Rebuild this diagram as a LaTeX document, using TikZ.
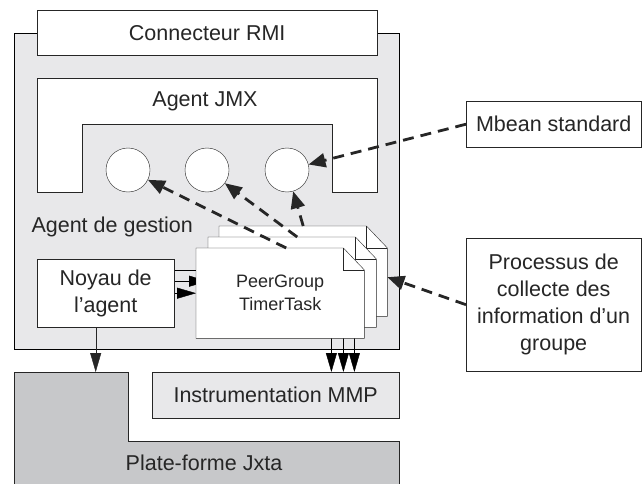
\documentclass[tikz,border=0pt]{standalone}
\usepackage{fontspec}
\setmainfont{Liberation Sans}
\usetikzlibrary{arrows.meta}
\pgfdeclarelayer{back}
\pgfdeclarelayer{mid}
\pgfsetlayers{back,mid,main}
\definecolor{paleg}{RGB}{232,232,234}
\definecolor{darkg}{RGB}{199,200,202}
\definecolor{ink}{RGB}{38,38,38}

\begin{document}
\begin{tikzpicture}[x=1pt,y=-1pt,line width=1.3pt,color=ink,
  box/.style={draw=ink,fill=white,inner sep=0pt,align=center,font=\fontsize{21.5}{27}\selectfont},
  docpage/.style={minimum width=168pt,minimum height=90pt,inner sep=0pt,anchor=north west},
  feed/.style={-{Triangle[length=19pt,width=11pt]}},
  link/.style={-{Triangle[length=17pt,width=14pt]},line width=2.8pt,dash pattern=on 11pt off 7pt}]
  \useasboundingbox (0,0) rectangle (642,484);
  \clip (0,0) rectangle (642,484);
  \begin{pgfonlayer}{back}
    \filldraw[fill=paleg] (14,33) rectangle (399,349);
  \end{pgfonlayer}
  \node[box,minimum width=340pt,minimum height=45pt,anchor=north west] (rmi) at (37,10) {Connecteur RMI};
  % agent JMX, with its notch
  \filldraw[fill=white] (37,78) -| (377,192) -- (332,192) |- (82,124) |- (37,192) -- cycle;
  \node[font=\fontsize{21.5}{27}\selectfont] (jmx) at (205,101) {Agent JMX};
  \foreach \k/\x in {1/128,2/207,3/287}
    \node[draw,fill=white,circle,minimum size=44pt,inner sep=0pt] (c\k) at (\x,170) {};
  \node[anchor=base west,font=\fontsize{21.5}{27}\selectfont] (gestion) at (28,232) {Agent de gestion};
  \node[box,minimum width=137pt,minimum height=68pt,anchor=north west] (noyau) at (37,259) {Noyau de\\l’agent};
  % plate-forme
  \filldraw[fill=darkg] (14,372) -- (128,372) -- (128,441) -- (399,441) -- (399,492) -- (14,492) -- cycle;
  \coordinate (jxtop) at (14,372);
  \node[font=\fontsize{21.5}{27}\selectfont] (jxta) at (204,463) {Plate-forme Jxta};
  \node[box,fill=paleg,minimum width=247pt,minimum height=46pt,anchor=north west] (instr) at (152,372) {Instrumentation MMP};
  \node[box,minimum width=175pt,minimum height=46pt,anchor=north west] (mbean) at (466,101) {Mbean standard};
  \node[box,minimum width=175pt,minimum height=133pt,anchor=north west] (proc) at (466,238)
    {Processus de\\collecte des\\information d’un\\groupe};
  % stacked PeerGroup tasks
  \foreach \k/\x/\y in {3/219/226,2/208/237,1/196/248}{
    \node[docpage] (d\k) at (\x,\y) {};
    \filldraw[fill=white] (d\k.south west) |- ([xshift=-21pt]d\k.north east)
      -- ([yshift=-22pt]d\k.north east) -- (d\k.south east) -- cycle;
    \draw ([xshift=-21pt]d\k.north east) -- ++(0,22) -- ++(21,0);
  }
  \node[align=center,font=\fontsize{18}{23}\selectfont] (task) at (d1.center) {PeerGroup\\TimerTask};
  \begin{pgfonlayer}{mid}
    \draw[feed] (noyau.east) -- (noyau.east -| d1.west);
    \draw[feed] ([yshift=12pt]noyau.east) -- ([yshift=12pt]noyau.east -| d2.west);
    \draw[feed] ([yshift=23pt]noyau.east) -- ([yshift=23pt]noyau.east -| d3.west);
    \foreach \k in {1,2,3}
      \draw[feed] ([xshift=-33pt]d\k.south east) -- ([xshift=-33pt]d\k.south east |- instr.north);
  \end{pgfonlayer}
  \draw[feed] ([xshift=-10pt]noyau.south) -- ([xshift=-10pt]noyau.south |- jxtop);
  \draw[link] (mbean.west) -- (c3);
  \draw[link] (d3.north) -- (c3);
  \draw[link] ([xshift=5pt]d2.north) -- (c2);
  \draw[link] ([xshift=6pt]d1.north) -- (c1);
  \draw[link] (proc.west) -- ([yshift=-6pt]d3.east);
\end{tikzpicture}
\end{document}
